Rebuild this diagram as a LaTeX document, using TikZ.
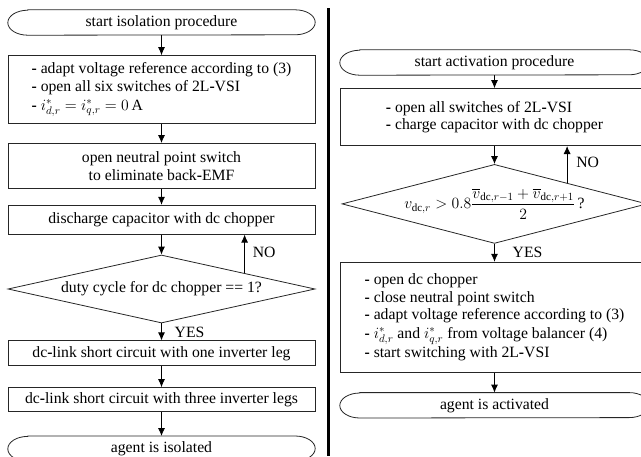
\RequirePackage{fix-cm}
\documentclass[tikz,border=0pt]{standalone}
\usepackage{amsmath}
\usepackage{fontspec}
\setmainfont{Liberation Serif}
\usepackage{tikz}
\usetikzlibrary{arrows.meta,positioning,shapes.geometric,calc}

\newcommand{\hy}{\textbf{-}}

\begin{document}
\begin{tikzpicture}[x=1pt, y=1pt,
    font=\fontsize{15.7}{17.6}\selectfont,
    block/.style={rectangle, draw=black!85, line width=0.8pt, align=center, inner sep=2pt},
    lblock/.style={block, align=left},
    term/.style={rectangle, minimum height=25pt, inner sep=0pt},
    decide/.style={diamond, draw=black!85, line width=0.8pt, inner sep=0pt, aspect=4},
    arr/.style={-{Latex[length=8pt,width=7pt]}, line width=0.8pt},
    lbl/.style={inner sep=0pt},
    node distance=18pt
]
\clip (0,0) rectangle (641,-456);

% isolation procedure (left)
\node[term, minimum width=307pt] (tIso) at (161.5,-22.5) {start isolation procedure};
\node[lblock, minimum width=307pt, minimum height=68pt, below=20pt of tIso] (adaptIso)
    {\hy{} adapt voltage reference according to (3)\\
     \hy{} open all six switches of 2L\hy{}VSI\\[1pt]
     \hy{} $i^*_{d,r} = i^*_{q,r} = 0\,\mathrm{A}$};
\draw[arr] (tIso) -- (adaptIso);
\node[block, minimum width=307pt, minimum height=45pt, below=19pt of adaptIso] (neutral)
    {open neutral point switch\\ to eliminate back\hy{}EMF};
\draw[arr] (adaptIso) -- (neutral);
\node[block, minimum width=307pt, minimum height=29pt, below=16pt of neutral] (discharge)
    {discharge capacitor with dc chopper};
\draw[arr] (neutral) -- (discharge);
\node[decide, minimum width=307pt, minimum height=68pt, below=20pt of discharge] (duty)
    {duty cycle for dc chopper == 1?};
\draw[arr] (discharge) -- (duty);
\coordinate (noIso) at ($(duty.north)!0.54!(duty.east)$);
\draw[arr] (noIso) -- (noIso |- discharge.south);
\node[lbl, right=8pt] (noIsoLbl) at ($(noIso)!0.55!(noIso |- discharge.south)$) {NO};
\node[block, minimum width=307pt, minimum height=25pt, below=17pt of duty] (shortOne)
    {dc\hy{}link short circuit with one inverter leg};
\draw[arr] (duty) -- (shortOne);
\node[lbl, right=13pt] (yesIso) at ($(duty.south)!0.5!(shortOne.north)$) {YES};
\node[block, minimum width=307pt, minimum height=24pt, below=21pt of shortOne] (shortThree)
    {dc\hy{}link short circuit with three inverter legs};
\draw[arr] (shortOne) -- (shortThree);
\node[term, minimum width=307pt, below=24pt of shortThree] (tIsoEnd) {agent is isolated};
\draw[arr] (shortThree) -- (tIsoEnd);

% separator
\draw[line width=3pt] (328,-8) -- (328,-456);

% activation procedure (right)
\node[term, minimum width=309pt] (tAct) at (494.5,-62.5) {start activation procedure};
\node[lblock, minimum width=309pt, minimum height=57pt, below=13pt of tAct] (charge)
    {\hy{} open all switches of 2L\hy{}VSI\\
     \hy{} charge capacitor with dc chopper};
\draw[arr] (tAct) -- (charge);
\node[decide, aspect=3.8, minimum width=305pt, minimum height=79pt, below=18pt of charge] (check)
    {$v_{\mathrm{dc},r} > 0.8\dfrac{\overline{v}_{\mathrm{dc},r-1}+\overline{v}_{\mathrm{dc},r+1}}{2}$\,?\hspace{12pt}};
\draw[arr] (charge) -- (check);
\coordinate (noAct) at ($(check.north)!0.475!(check.east)$);
\draw[arr] (noAct) -- (noAct |- charge.south);
\node[lbl, right=9pt] (noActLbl) at ($(noAct)!0.55!(noAct |- charge.south)$) {NO};
\node[lblock, minimum width=309pt, minimum height=110pt, below=18pt of check] (activate)
    {\hy{} open dc chopper\\
     \hy{} close neutral point switch\\
     \hy{} adapt voltage reference according to (3)\\[1pt]
     \hy{} $i^*_{d,r}$ and $i^*_{q,r}$ from voltage balancer (4)\\[1pt]
     \hy{} start switching with 2L\hy{}VSI};
\draw[arr] (check) -- (activate);
\node[lbl, right=18pt] (yesAct) at ($(check.south)!0.5!(activate.north)$) {YES};
\node[term, minimum width=309pt, below=20pt of activate] (tActEnd) {agent is activated};
\draw[arr] (activate) -- (tActEnd);

% terminal outlines
\foreach \t in {tIso,tIsoEnd,tAct,tActEnd}
  \draw[draw=black!85, line width=0.8pt]
    ([xshift=20pt]\t.north west) -- ([xshift=-20pt]\t.north east)
    arc[start angle=90, end angle=-90, x radius=20pt, y radius=12.5pt]
    -- ([xshift=20pt]\t.south west)
    arc[start angle=270, end angle=90, x radius=20pt, y radius=12.5pt] -- cycle;
\end{tikzpicture}
\end{document}
